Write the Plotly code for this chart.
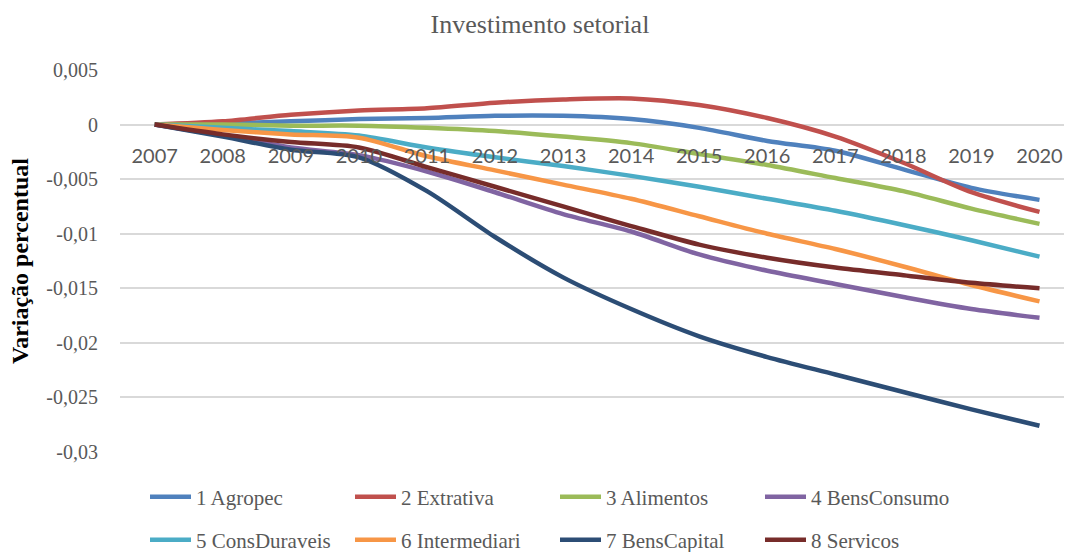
import plotly.graph_objects as go

years = ["2007", "2008", "2009", "2010", "2011", "2012", "2013",
         "2014", "2015", "2016", "2017", "2018", "2019", "2020"]

agropec = [0, 0.0001, 0.0003, 0.0005, 0.0006, 0.0008, 0.0008,
           0.0005, -0.0003, -0.0015, -0.0024, -0.0041, -0.0058, -0.0069]
extrativa = [0, 0.0003, 0.0009, 0.0013, 0.0015, 0.0020, 0.0023,
             0.0024, 0.0018, 0.0006, -0.0011, -0.0035, -0.0062, -0.0080]
alimentos = [0, 0.0000, -0.0001, -0.0001, -0.0003, -0.0006, -0.0011,
             -0.0017, -0.0027, -0.0037, -0.0049, -0.0061, -0.0077, -0.0091]
bensconsumo = [0, -0.0010, -0.0021, -0.0028, -0.0043, -0.0062, -0.0082,
               -0.0098, -0.0119, -0.0134, -0.0146, -0.0158, -0.0169, -0.0177]
consduraveis = [0, -0.0003, -0.0006, -0.0010, -0.0021, -0.0030, -0.0038,
                -0.0047, -0.0057, -0.0068, -0.0079, -0.0092, -0.0106, -0.0121]
intermediari = [0, -0.0005, -0.0009, -0.0012, -0.0029, -0.0042, -0.0055,
                -0.0068, -0.0084, -0.0100, -0.0114, -0.0130, -0.0147, -0.0162]
benscapital = [0, -0.0011, -0.0023, -0.0030, -0.0061, -0.0103, -0.0140,
               -0.0169, -0.0194, -0.0213, -0.0229, -0.0245, -0.0261, -0.0276]
servicos = [0, -0.0009, -0.0016, -0.0021, -0.0039, -0.0057, -0.0075,
            -0.0093, -0.0110, -0.0122, -0.0131, -0.0138, -0.0145, -0.0150]

series_names = ["1 Agropec", "2 Extrativa", "3 Alimentos", "4 BensConsumo",
                "5 ConsDuraveis", "6 Intermediari", "7 BensCapital", "8 Servicos"]
series_values = [agropec, extrativa, alimentos, bensconsumo,
                 consduraveis, intermediari, benscapital, servicos]
colors = ["#4F81BD", "#C0504D", "#9BBB59", "#8064A2",
          "#4BACC6", "#F79646", "#2C4D75", "#772C2A"]

y_tickvals = [0.005, 0, -0.005, -0.01, -0.015, -0.02, -0.025, -0.03]
y_ticktext = ["0,005", "0", "-0,005", "-0,01", "-0,015", "-0,02", "-0,025", "-0,03"]

fig = go.Figure()
for i, (name, vals, col) in enumerate(zip(series_names, series_values, colors)):
    fig.add_trace(go.Scatter(
        x=list(range(len(years))), y=vals, name=name, mode="lines",
        line=dict(color=col, width=4.5, shape="spline", smoothing=0.8),
        legend="legend" if i < 4 else "legend2",
        hoverinfo="skip",
    ))

serif = "Liberation Serif"
grey = "#595959"

legend_common = dict(
    orientation="h", xanchor="left", yanchor="middle",
    font=dict(family=serif, size=21, color=grey),
    itemwidth=41,
    entrywidth=149, entrywidthmode="pixels",
    bgcolor="rgba(0,0,0,0)", traceorder="normal",
)

plot_l, plot_r, plot_t, plot_b = 120, 1064, 70, 452
pw = plot_r - plot_l
ph = plot_b - plot_t

fig.update_layout(
    width=1069, height=552,
    paper_bgcolor="white", plot_bgcolor="white",
    margin=dict(l=plot_l, r=1069 - plot_r, t=plot_t, b=552 - plot_b, autoexpand=False),
    showlegend=True,
    title=dict(text="Investimento setorial", x=540 / 1069, xanchor="center",
               xref="container", y=1 - 24 / 552, yanchor="middle", yref="container",
               font=dict(family=serif, size=26, color=grey)),
    xaxis=dict(
        range=[-0.51, 13.36], tickmode="array",
        tickvals=list(range(len(years))), ticktext=years,
        showgrid=False, zeroline=False, showline=False,
        anchor="free", position=0.03 / 0.035,
        ticks="outside", ticklen=13, tickcolor="rgba(0,0,0,0)",
        tickfont=dict(family="Lato", size=20, color=grey),
    ),
    yaxis=dict(
        range=[-0.03, 0.005], tickmode="array",
        tickvals=y_tickvals, ticktext=y_ticktext,
        showgrid=True, gridcolor="#D9D9D9", gridwidth=1.5,
        zeroline=False, showline=False,
        ticks="outside", ticklen=17, tickcolor="rgba(0,0,0,0)",
        tickfont=dict(family=serif, size=20, color=grey),
    ),
    legend=dict(x=(145 - plot_l) / pw, y=(plot_b - 497) / ph, **legend_common),
    legend2=dict(x=(145 - plot_l) / pw, y=(plot_b - 540) / ph, **legend_common),
    annotations=[dict(
        text="<b>Variação percentual</b>", textangle=-90,
        xref="paper", yref="paper", x=(20 - plot_l) / pw, y=0.5,
        xanchor="center", yanchor="middle", showarrow=False,
        font=dict(family=serif, size=24, color="black"),
    )],
)

fig.write_html("out.html", config={"displayModeBar": False},
               post_script="document.body.style.margin='0';")
